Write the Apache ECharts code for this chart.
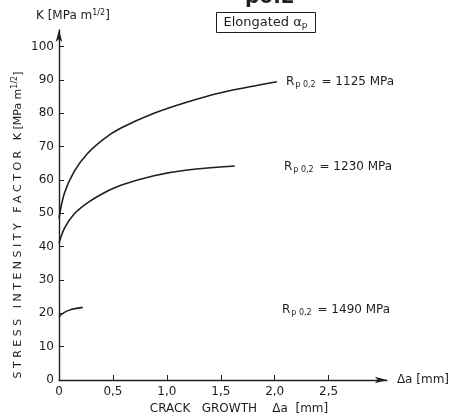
<!DOCTYPE html>
<html>
<head>
<meta charset="utf-8">
<script src="https://cdn.jsdelivr.net/npm/echarts@6/dist/echarts.min.js"></script>
<style>
html,body{margin:0;padding:0;background:#fff;}
#c{width:452px;height:416px;}
</style>
</head>
<body>
<div id="c"></div>
<script>
// Crack growth Δa [mm] and stress intensity K [MPa m^1/2]
const dA_1125 = [0, 0.05, 0.14, 0.26, 0.42, 0.57, 0.88, 1.19, 1.5, 1.81, 2.02];
const K_1125  = [48.5, 56, 62.5, 67.8, 72.4, 75.5, 80, 83.4, 86.2, 88.2, 89.5];
const dA_1230 = [0, 0.05, 0.14, 0.27, 0.42, 0.58, 0.88, 1.19, 1.63];
const K_1230  = [41, 45.5, 49.8, 53.3, 56.2, 58.5, 61.3, 63, 64.2];
const dA_1490 = [0, 0.05, 0.12, 0.22];
const K_1490  = [19, 20.3, 21.2, 21.8];
const xTickLabels = [0, 0.5, 1.0, 1.5, 2.0, 2.5];
const yTickLabels = [0, 10, 20, 30, 40, 50, 60, 70, 80, 90, 100];
const seriesNames = ['1125', '1230', '1490'];

const FONT = 'DejaVu Sans';
const INK = '#1e1e1e';

function pairs(xs, ys){ return xs.map((x,i)=>[x, ys[i]]); }

const chart = echarts.init(document.getElementById('c'), null, {renderer:'canvas'});

function curve(name, xs, ys){
  return {
    name: name, type: 'line', data: pairs(xs, ys),
    smooth: 0.35, showSymbol: false,
    lineStyle: {color: INK, width: 1.6}, animation: false
  };
}

const sup = {fontSize: 8, verticalAlign: 'top', padding: [0,0,6,0], fontFamily: FONT, fill: INK};
const sub = {fontSize: 9, padding: [6,0,0,0], fontFamily: FONT, fill: INK};

function rpLabel(x, y, val){
  return {
    type: 'text', left: x, top: y,
    style: {
      text: '{b|R}{s|p 0,2}{b| = ' + val + ' MPa}',
      rich: {
        b: {fontSize: 12, fontFamily: FONT, fill: INK, lineHeight: 16},
        s: {fontSize: 8, fontFamily: FONT, fill: INK, padding: [7,2,0,1], lineHeight: 16}
      }
    }
  };
}

chart.setOption({
  backgroundColor: '#fff',
  animation: false,
  grid: {left: 59, right: 65, top: 30, bottom: 36},
  xAxis: {
    type: 'value', min: 0, max: 3.04,
    name: 'Δa [mm]', nameLocation: 'end', nameGap: 10,
    nameTextStyle: {fontFamily: FONT, fontSize: 12, color: INK},
    axisLine: {lineStyle: {color: INK, width: 1.4}, symbol: ['none', 'arrow'], symbolSize: [5, 12]},
    axisTick: {inside: true, length: 5, lineStyle: {color: INK}, customValues: xTickLabels.slice(1)},
    axisLabel: {
      customValues: xTickLabels, color: INK, fontFamily: FONT, fontSize: 12, margin: 6,
      formatter: v => v === 0 ? '0' : v.toFixed(1).replace('.', ',')
    },
    splitLine: {show: false}
  },
  yAxis: {
    type: 'value', min: 0, max: 105,
    axisLine: {show: true, lineStyle: {color: INK, width: 1.4}, symbol: ['none', 'arrow'], symbolSize: [5, 12]},
    axisTick: {show: true, inside: true, length: 5, lineStyle: {color: INK}, customValues: yTickLabels.slice(1)},
    axisLabel: {customValues: yTickLabels, color: INK, fontFamily: FONT, fontSize: 12, margin: 5},
    splitLine: {show: false}
  },
  series: [
    curve(seriesNames[0], dA_1125, K_1125),
    curve(seriesNames[1], dA_1230, K_1230),
    curve(seriesNames[2], dA_1490, K_1490)
  ],
  graphic: [
    // cut-off heading at the top
    {type: 'text', left: 245, top: -12, style: {text: 'p0.2', font: 'bold 20px ' + FONT, fill: INK}},
    // y axis heading
    {type: 'text', left: 36, top: 9, style: {
      text: 'K [MPa m{u|1/2}]',
      rich: {u: sup},
      font: '12px ' + FONT, fill: INK
    }},
    // boxed note
    {type: 'text', left: 216, top: 12, style: {
      text: 'Elongated α{d|p}',
      rich: {d: sub},
      font: '13px ' + FONT, fill: INK,
      borderColor: INK, borderWidth: 1, padding: [3, 8, 2, 7]
    }},
    // rotated axis title
    {type: 'text', x: 18, y: 225, rotation: Math.PI / 2,
      style: {
        text: 'S T R E S S   I N T E N S I T Y   F A C T O R   K [MPa m{u|1/2}]',
        rich: {u: sup},
        font: '11px ' + FONT, fill: INK, align: 'center', verticalAlign: 'middle'
      }},
    // bottom axis title
    {type: 'text', x: 239, y: 409, style: {
      text: 'CRACK   GROWTH    Δa  [mm]', font: '12px ' + FONT, fill: INK,
      align: 'center', verticalAlign: 'middle'
    }},
    rpLabel(286, 74, '1125'),
    rpLabel(284, 159, '1230'),
    rpLabel(282, 302, '1490')
  ]
});
</script>
</body>
</html>
